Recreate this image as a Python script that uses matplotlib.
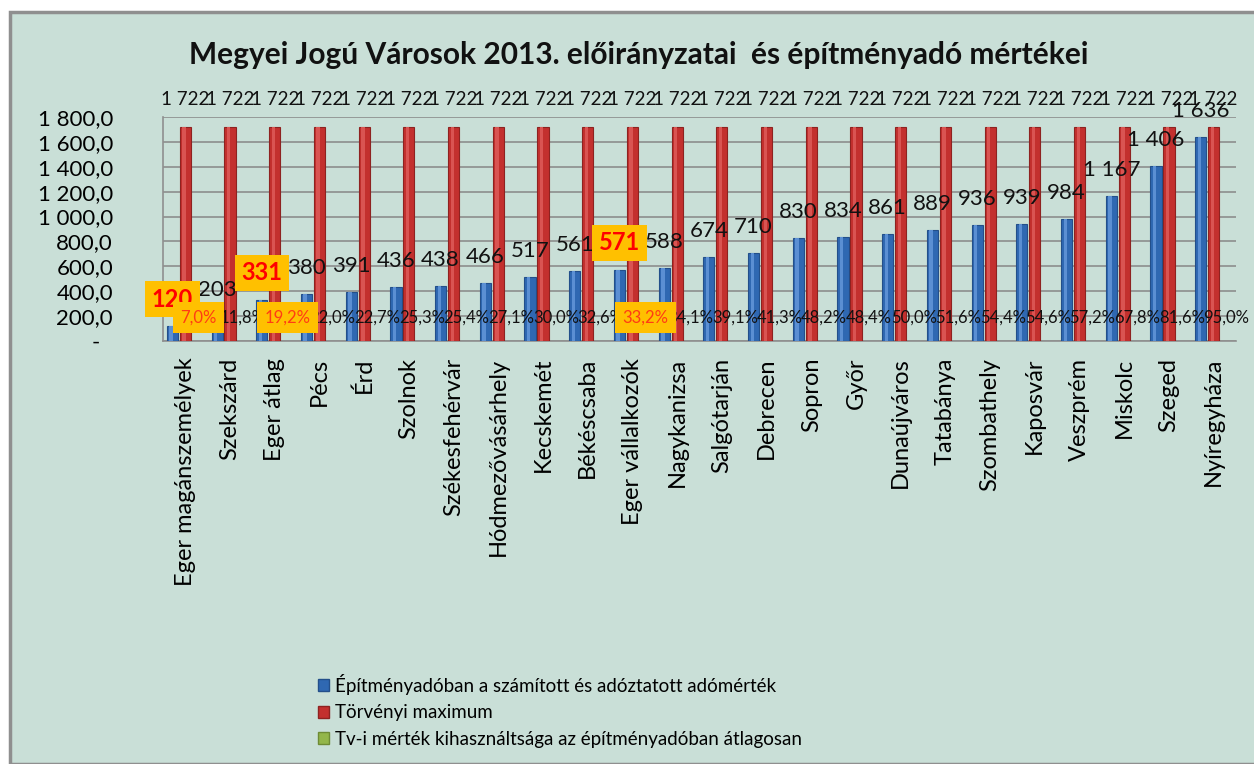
import matplotlib
matplotlib.use("Agg")
import matplotlib.pyplot as plt
from matplotlib.patches import Rectangle, Patch
import numpy as np

plt.rcParams['font.family'] = ['Lato', 'DejaVu Sans']

title = "Megyei Jogú Városok 2013. előirányzatai  és építményadó mértékei"
categories = ["Eger magánszemélyek", "Szekszárd", "Eger átlag", "Pécs", "Érd", "Szolnok",
              "Székesfehérvár", "Hódmezővásárhely", "Kecskemét", "Békéscsaba",
              "Eger vállalkozók", "Nagykanizsa", "Salgótarján", "Debrecen", "Sopron",
              "Győr", "Dunaújváros", "Tatabánya", "Szombathely", "Kaposvár", "Veszprém",
              "Miskolc", "Szeged", "Nyíregyháza"]
applied_rate = [120, 203, 331, 380, 391, 436, 438, 466, 517, 561, 571, 588, 674, 710,
                830, 834, 861, 889, 936, 939, 984, 1167, 1406, 1636]
legal_max = [1722] * 24
utilisation_pct = [7.0, 11.8, 19.2, 22.0, 22.7, 25.3, 25.4, 27.1, 30.0, 32.6, 33.2, 34.1,
                   39.1, 41.3, 48.2, 48.4, 50.0, 51.6, 54.4, 54.6, 57.2, 67.8, 81.6, 95.0]
highlight = ["Eger magánszemélyek", "Eger átlag", "Eger vállalkozók"]
series_names = ["Építményadóban a számított és adóztatott adómérték",
                "Törvényi maximum",
                "Tv-i mérték kihasználtsága az építményadóban átlagosan"]
yticks = [0, 200, 400, 600, 800, 1000, 1200, 1400, 1600, 1800]

W, H = 1254, 764
fig = plt.figure(figsize=(W / 100, H / 100), dpi=100)
fig.patch.set_facecolor("white")
bg = "#C9DFD7"
fig.patches.append(Rectangle((10 / W, 0), 1.0, 1 - 12 / H, transform=fig.transFigure,
                             facecolor=bg, edgecolor="#8F8F8F", linewidth=2.5, zorder=-5))

ax = fig.add_axes([163 / W, 1 - 341 / H, 1073 / W, 224 / H])
ax.set_zorder(2)
ax.set_facecolor("none")
x = np.arange(len(categories))
bw = 0.25
off = 0.29
blue, red, green = "#2F68B2", "#C3302E", "#93B64A"

bb = ax.bar(x - off, applied_rate, bw, color=blue, edgecolor="#234F8A", linewidth=0.8, zorder=3)
rb = ax.bar(x, legal_max, bw, color=red, edgecolor="#8E2220", linewidth=0.8, zorder=3)
gb = ax.bar(x + off, [p / 100 for p in utilisation_pct], bw, color=green, zorder=3)
# light highlights to mimic cylindrical shading
ax.bar(x - off - bw * 0.12, applied_rate, bw * 0.3, color="#5B8FD3", linewidth=0, zorder=4)
ax.bar(x - bw * 0.12, legal_max, bw * 0.3, color="#D95452", linewidth=0, zorder=4)

ax.set_xlim(-0.5, len(categories) - 0.5)
ax.set_ylim(0, 1800)
ax.set_yticks(yticks)
ax.set_yticklabels([("-" + "\u2007") if v == 0 else f"{v:,}".replace(",", " ") + ",0"
                    for v in yticks], fontsize=16)
ax.tick_params(axis="y", length=0, pad=36)
ax.set_xticks(x)
ax.set_xticklabels(categories, rotation=90, fontsize=17, va="top", ha="center")
ax.tick_params(axis="x", length=0, pad=12)
ax.grid(axis="y", color="#878787", linewidth=1.1, zorder=1)
ax.set_axisbelow(True)
for s in ["top", "right"]:
    ax.spines[s].set_visible(False)
for s in ["left", "bottom"]:
    ax.spines[s].set_color("#8F8F8F")
    ax.spines[s].set_linewidth(1.2)

def fmt(v):
    return f"{v:,}".replace(",", " ")

for i, (c, v, m, p) in enumerate(zip(categories, applied_rate, legal_max, utilisation_pct)):
    ax.annotate(fmt(m), (x[i], m), xytext=(0, 27), textcoords="offset pixels",
                ha="center", va="center", fontsize=13.5, color="#111111", zorder=6,
                annotation_clip=False)
    if c in highlight:
        ax.annotate(fmt(v), (x[i] - off, v), xytext=(0, 27), textcoords="offset pixels",
                    ha="center", va="center", fontsize=17, fontweight="bold", color="#FF0000",
                    zorder=7, annotation_clip=False,
                    bbox=dict(boxstyle="square,pad=0.28", facecolor="#FFC000", edgecolor="none"))
        ax.annotate(f"{p:.1f}".replace(".", ",") + "%", (x[i] + off, p / 100), xytext=(0, 23),
                    textcoords="offset pixels", ha="center", va="center", fontsize=12,
                    color="#FF3C14", zorder=8, annotation_clip=False,
                    bbox=dict(boxstyle="square,pad=0.45", facecolor="#FFC000", edgecolor="none"))
    else:
        ax.annotate(fmt(v), (x[i] - off, v), xytext=(0, 26), textcoords="offset pixels",
                    ha="center", va="center", fontsize=16, color="#111111", zorder=6,
                    annotation_clip=False)
        ax.annotate(f"{p:.1f}".replace(".", ",") + "%", (x[i] + off, p / 100), xytext=(0, 23),
                    textcoords="offset pixels", ha="center", va="center", fontsize=12,
                    color="#111111", zorder=6, annotation_clip=False)

fig.text(639 / W, 1 - 55 / H, title, ha="center", va="center", fontsize=21.5,
         fontweight="bold", color="#111111")

handles = [Patch(facecolor=blue, edgecolor="#234F8A"),
           Patch(facecolor=red, edgecolor="#8E2220"),
           Patch(facecolor=green, edgecolor="#6E8B35")]
fig.legend(handles, series_names, loc="upper left", bbox_to_anchor=(318 / W, 1 - 674 / H),
           frameon=False, fontsize=13.5, handlelength=0.6, handleheight=0.6,
           handletextpad=0.3, labelspacing=0.5, borderpad=0, borderaxespad=0)

fig.savefig("out.png", dpi=100, facecolor=fig.get_facecolor())
